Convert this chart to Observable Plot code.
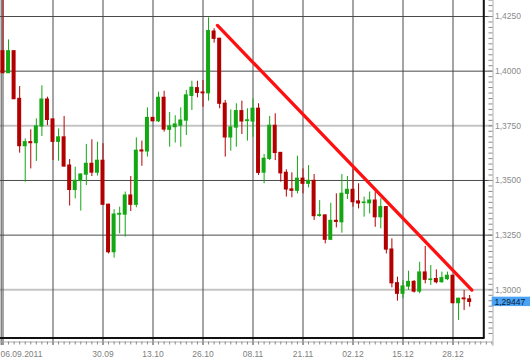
<!DOCTYPE html>
<html>
<head>
<meta charset="utf-8">
<script src="https://cdn.jsdelivr.net/npm/d3@7"></script>
<script src="https://cdn.jsdelivr.net/npm/@observablehq/plot@0.6"></script>
<style>
  html, body { margin: 0; padding: 0; background: #fff; }
  #chart svg { display: block; }
</style>
</head>
<body>
<div id="chart"></div>
<script>
// ---- data (EUR/USD daily, 06.09.2011 – 02.01.2012) ----
const dates = [
  "06.09","07.09","08.09","09.09","12.09","13.09","14.09","15.09","16.09","19.09",
  "20.09","21.09","22.09","23.09","26.09","27.09","28.09","29.09","30.09",
  "03.10","04.10","05.10","06.10","07.10","10.10","11.10","12.10","13.10","14.10",
  "17.10","18.10","19.10","20.10","21.10","24.10","25.10","26.10","27.10","28.10","31.10",
  "01.11","02.11","03.11","04.11","07.11","08.11","09.11","10.11","11.11","14.11",
  "15.11","16.11","17.11","18.11","21.11","22.11","23.11","24.11","25.11","28.11","29.11","30.11",
  "01.12","02.12","05.12","06.12","07.12","08.12","09.12","12.12","13.12","14.12","15.12",
  "16.12","19.12","20.12","21.12","22.12","23.12","26.12","27.12","28.12","29.12","30.12",
  "02.01"
];
const open = [
  1.4091,1.3991,1.4091,1.3873,1.3657,1.3675,1.3671,1.3747,1.3870,1.3779,
  1.3677,1.3697,1.3568,1.3457,1.3498,1.3527,1.3576,1.3536,1.3590,1.3389,
  1.3172,1.3344,1.3344,1.3431,1.3389,1.3637,1.3633,1.3786,1.3771,1.3878,
  1.3732,1.3744,1.3751,1.3774,1.3887,1.3922,1.3902,1.3899,1.4181,1.4148,
  1.3851,1.3697,1.3742,1.3817,1.3772,1.3770,1.3828,1.3536,1.3599,1.3750,
  1.3626,1.3535,1.3459,1.3453,1.3508,1.3485,1.3498,1.3338,1.3340,1.3229,
  1.3315,1.3309,1.3439,1.3457,1.3404,1.3397,1.3396,1.3408,1.3332,1.3378,
  1.3184,1.3030,1.2982,1.3015,1.3036,1.2992,1.3079,1.3045,1.3049,1.3035,
  1.3049,1.3064,1.2939,1.2960,1.2956
];
const high = [
  1.4330,1.4143,1.4093,1.3930,1.3690,1.3732,1.3782,1.3933,1.3881,1.3781,
  1.3736,1.3793,1.3596,1.3561,1.3530,1.3665,1.3686,1.3675,1.3668,1.3391,
  1.3366,1.3378,1.3447,1.3518,1.3695,1.3680,1.3832,1.3788,1.3904,1.3908,
  1.3811,1.3796,1.3832,1.3912,1.3954,1.3954,1.3957,1.4244,1.4194,1.4150,
  1.3866,1.3823,1.3851,1.3863,1.3828,1.3873,1.3851,1.3619,1.3793,1.3805,
  1.3628,1.3549,1.3535,1.3611,1.3553,1.3568,1.3527,1.3408,1.3342,1.3396,
  1.3439,1.3527,1.3518,1.3553,1.3485,1.3424,1.3447,1.3447,1.3416,1.3380,
  1.3233,1.3058,1.3042,1.3085,1.3042,1.3126,1.3198,1.3111,1.3091,1.3081,
  1.3081,1.3066,1.2961,1.2997,1.2974
];
const low = [
  1.3989,1.3989,1.3870,1.3625,1.3492,1.3553,1.3587,1.3701,1.3751,1.3591,
  1.3588,1.3561,1.3383,1.3416,1.3360,1.3477,1.3518,1.3520,1.3387,1.3164,
  1.3145,1.3256,1.3241,1.3358,1.3375,1.3565,1.3607,1.3769,1.3765,1.3721,
  1.3652,1.3671,1.3652,1.3706,1.3820,1.3878,1.3835,1.3863,1.4128,1.3828,
  1.3607,1.3634,1.3652,1.3710,1.3680,1.3698,1.3523,1.3485,1.3591,1.3591,
  1.3492,1.3424,1.3421,1.3439,1.3439,1.3466,1.3317,1.3332,1.3210,1.3227,
  1.3283,1.3259,1.3413,1.3378,1.3370,1.3332,1.3347,1.3286,1.3279,1.3164,
  1.3009,1.2948,1.2959,1.2997,1.2985,1.2982,1.3027,1.3020,1.3027,1.3030,
  1.3042,1.2936,1.2860,1.2905,1.2921
];
const close = [
  1.3991,1.4091,1.3872,1.3657,1.3675,1.3671,1.3747,1.3870,1.3777,1.3677,
  1.3697,1.3564,1.3457,1.3498,1.3527,1.3576,1.3536,1.3590,1.3389,1.3172,
  1.3344,1.3347,1.3431,1.3389,1.3636,1.3633,1.3786,1.3771,1.3878,1.3733,
  1.3747,1.3756,1.3774,1.3889,1.3924,1.3901,1.3899,1.4183,1.4148,1.3851,
  1.3697,1.3742,1.3817,1.3770,1.3775,1.3828,1.3535,1.3599,1.3750,1.3626,
  1.3533,1.3459,1.3453,1.3508,1.3485,1.3498,1.3337,1.3341,1.3229,1.3315,
  1.3311,1.3439,1.3457,1.3401,1.3395,1.3399,1.3408,1.3332,1.3378,1.3184,
  1.3030,1.2982,1.3015,1.3036,1.2992,1.3079,1.3046,1.3047,1.3035,1.3053,
  1.3064,1.2939,1.2959,1.2957,1.29447
];
// date-axis labels (gridline every 9 sessions)
const xTickIdx    = [0, 9, 18, 27, 36, 45, 54, 63, 72, 81];
const xTickLabels = ["06.09.2011", "", "30.09", "13.10", "26.10", "08.11", "21.11", "02.12", "15.12", "28.12"];
// price-axis labels
const yTicks = [1.3000, 1.3250, 1.3500, 1.3750, 1.4000, 1.4250];
const yTicksLight = [1.3000, 1.3750];
// trend line (resistance), as [session index, price]
const trendIdx   = [38.6, 84.4];
const trendPrice = [1.4209, 1.2999];
const lastPriceLabel = "1,29447";

// ---- build ----
const candles = dates.map((d, i) => ({
  i, date: d, open: open[i], high: high[i], low: low[i], close: close[i],
  up: close[i] >= open[i]
}));
const trend = trendIdx.map((v, k) => ({i: v, p: trendPrice[k]}));

// scale geometry
const X0 = 2.5, DX = 50 / 9;
const Y_HI = 1.425, Y_LO = 1.300, PY_HI = 16, PY_LO = 289.3;
const ix = px => (px - X0) / DX;                                // pixel -> session index
const iy = py => Y_LO + (PY_LO - py) / (PY_LO - PY_HI) * (Y_HI - Y_LO); // pixel -> price

const RED = "#b20000", GREEN = "#13a813";
const fmt = v => v.toFixed(4).replace(".", ",");
const minorY = d3.range(1.2800, 1.4326, 0.0025);
const minorX = d3.range(0, 89);

const chart = Plot.plot({
  width: 530,
  height: 362,
  marginTop: 0, marginRight: 0, marginBottom: 0, marginLeft: 0,
  x: {domain: [0, 81], range: [X0, X0 + 81 * DX], axis: null},
  y: {domain: [Y_LO, Y_HI], range: [PY_LO, PY_HI], axis: null},
  style: {background: "#ffffff", fontFamily: "'Liberation Sans', Arial, sans-serif"},
  marks: [
    // horizontal grid
    Plot.ruleY(yTicks.filter(v => !yTicksLight.includes(v)), {x1: ix(0), x2: ix(492.5), stroke: "#4a4a4a", strokeWidth: 1}),
    Plot.ruleY(yTicksLight, {x1: ix(0), x2: ix(492.5), stroke: "#c4c4c4", strokeWidth: 2}),
    // vertical grid
    Plot.ruleX(xTickIdx, {y1: iy(345), y2: iy(-2), stroke: "#4a4a4a", strokeWidth: 1}),
    Plot.ruleX([ix(0.7)], {y1: iy(345), y2: iy(-2), stroke: "#4a4a4a", strokeWidth: 1}),
    // bottom axis line + session ticks
    Plot.ruleY([iy(341.5)], {x1: ix(0), x2: ix(492.5), stroke: "#b0b0b0", strokeWidth: 1}),
    Plot.ruleX(minorX, {y1: iy(341.5), y2: iy(344.5), stroke: "#8a8a8a", strokeWidth: 1}),
    // right axis line + ticks
    Plot.ruleX([ix(492.5)], {y1: iy(346), y2: iy(-2), stroke: "#b0b0b0", strokeWidth: 1}),
    Plot.ruleY(minorY, {x1: ix(488.5), x2: ix(492.5), stroke: "#8a8a8a", strokeWidth: 1}),
    // frame (bottom & right)
    Plot.ruleY([iy(337.5)], {x1: ix(0), x2: ix(484.3), stroke: "#111", strokeWidth: 2}),
    Plot.ruleX([ix(483.3)], {y1: iy(338.5), y2: iy(-2), stroke: "#111", strokeWidth: 2}),
    // candles
    Plot.ruleX(candles, {x: "i", y1: "low", y2: "high", stroke: d => d.up ? GREEN : RED, strokeWidth: 1}),
    Plot.rect(candles, {
      x1: d => d.i - 0.36, x2: d => d.i + 0.36,
      y1: "open", y2: "close",
      fill: d => d.up ? GREEN : RED,
      insetTop: -0.6, insetBottom: -0.6
    }),
    // trend line
    Plot.line(trend, {x: "i", y: "p", stroke: "#ff1010", strokeWidth: 3.3, strokeLinecap: "round"}),
    // x labels
    Plot.text(xTickIdx.slice(1), {
      x: d => d, y: iy(354), text: d => xTickLabels[xTickIdx.indexOf(d)],
      fill: "#808080", fontSize: 8.5, textAnchor: "middle"
    }),
    Plot.text([xTickLabels[0]], {
      x: ix(0), y: iy(354), text: d => d, fill: "#808080", fontSize: 8.5, textAnchor: "start"
    }),
    // y labels
    Plot.text(yTicks, {
      x: ix(494.5), y: d => d, text: fmt, fill: "#8a8a8a", fontSize: 8.5, textAnchor: "start"
    }),
    // last price box
    Plot.rect([close[close.length - 1]], {
      x1: ix(491.7), x2: ix(531), y1: d => d - 0.00215, y2: d => d + 0.00215, fill: "#4aa3f5"
    }),
    Plot.text([close[close.length - 1]], {
      x: ix(494), y: d => d, text: () => lastPriceLabel, fill: "#0a1a33", fontSize: 8.5, textAnchor: "start"
    })
  ]
});
document.getElementById("chart").appendChild(chart);
</script>
</body>
</html>
